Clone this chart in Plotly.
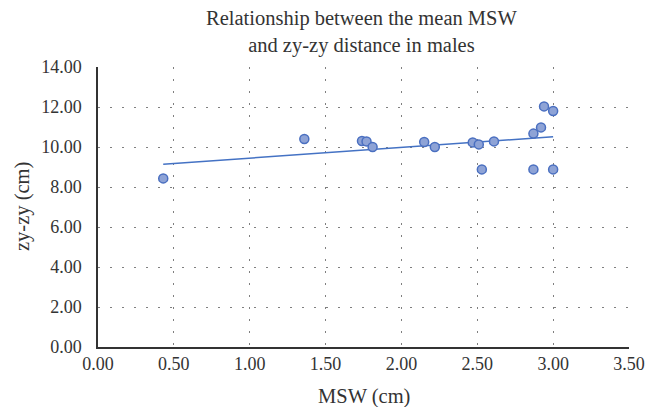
import numpy as np
import plotly.graph_objects as go

msw = [0.43, 1.36, 1.74, 1.77, 1.81, 2.15, 2.22, 2.47, 2.51, 2.53, 2.61, 2.87, 2.87, 2.92, 2.94, 3.00, 3.00]
zyzy = [8.43, 10.40, 10.30, 10.28, 10.00, 10.25, 10.00, 10.23, 10.13, 8.88, 10.28, 10.67, 8.88, 10.98, 12.03, 11.80, 8.88]
x_ticks = [0, 0.5, 1.0, 1.5, 2.0, 2.5, 3.0, 3.5]
y_ticks = [0, 2, 4, 6, 8, 10, 12, 14]

slope, intercept = np.polyfit(msw, zyzy, 1)
x_fit = [min(msw), max(msw)]
y_fit = [slope * v + intercept for v in x_fit]

FONT = "Liberation Serif"
fig = go.Figure()
fig.add_trace(go.Scatter(x=x_fit, y=y_fit, mode="lines",
                         line=dict(color="#4472C4", width=1.5), hoverinfo="skip", showlegend=False))
fig.add_trace(go.Scatter(x=msw, y=zyzy, mode="markers",
                         marker=dict(size=9, color="#8EA3D6", line=dict(color="#4A6FC0", width=1.5)),
                         showlegend=False))

grid = dict(showgrid=True, gridcolor="#7f7f7f", gridwidth=1, griddash="2px,10px")
fig.update_xaxes(range=[0, 3.5], tickvals=x_ticks, ticktext=[f"{v:.2f}" for v in x_ticks],
                 showline=True, linecolor="#333333", linewidth=1.5, zeroline=False,
                 ticks="", tickfont=dict(family=FONT, size=18, color="#333333"), **grid)
fig.update_yaxes(range=[0, 14], tickvals=y_ticks, ticktext=[f"{v:.2f}" for v in y_ticks],
                 showline=True, linecolor="#333333", linewidth=1.5, zeroline=False,
                 ticks="", ticklabelstandoff=11,
                 tickfont=dict(family=FONT, size=18, color="#333333"), **grid)

fig.update_layout(
    width=651, height=399,
    margin=dict(l=90, r=30, t=59, b=60),
    plot_bgcolor="white", paper_bgcolor="white",
    annotations=[
        dict(text="Relationship between the mean MSW<br>and zy-zy distance in males",
             xref="paper", yref="paper", x=0.497, y=1, yshift=35, xanchor="center", yanchor="middle",
             showarrow=False, font=dict(family=FONT, size=20.5, color="#333333")),
        dict(text="MSW (cm)", xref="paper", yref="paper", x=0.5, y=0, yshift=-49,
             showarrow=False, yanchor="middle", font=dict(family=FONT, size=20.5, color="#333333")),
        dict(text="zy-zy (cm)", xref="paper", yref="paper", x=0, y=0.5, xshift=-76,
             showarrow=False, textangle=-90, xanchor="center",
             font=dict(family=FONT, size=20.5, color="#333333")),
    ],
)
fig.write_html("out.html")
